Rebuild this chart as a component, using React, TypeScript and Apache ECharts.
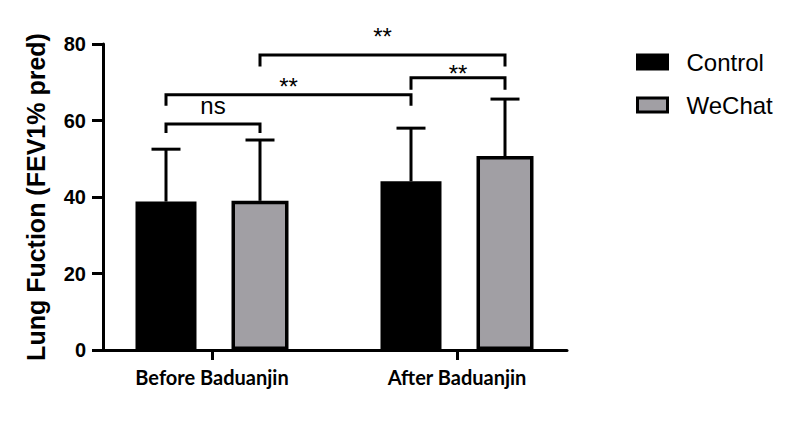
import React, { useEffect, useRef } from 'react';
import * as echarts from 'echarts';

// ---- data ----
const categories = ['Before Baduanjin', 'After Baduanjin'];
const seriesNames = ['Control', 'WeChat'];
const controlMeans = [38.8, 44.1];
const wechatMeans = [39.0, 50.7];
const controlSdTop = [52.5, 58.0];
const wechatSdTop = [54.9, 65.6];
const yTickValues = [0, 20, 40, 60, 80];
// significance brackets: [category, series] at each end, level and label
const bracketLeft = [[0, 0], [0, 0], [1, 0], [0, 1]];
const bracketRight = [[0, 1], [1, 0], [1, 1], [1, 1]];
const bracketLevels = [59.1, 66.7, 71.2, 77.1];
const bracketLabels = ['ns', '**', '**', '**'];

// ---- styles ----
const SERIES_OFFSET = [-46, 48];
const LABEL_LIFT = [18, 8, 4, 19];
const LEG = [9, 11, 12, 11.5];
const GRAY = '#a19fa4';
const FONT = 'Arial, "Liberation Sans", sans-serif';

export default function App() {
  const ref = useRef<HTMLDivElement>(null);
  useEffect(() => {
    document.body.style.margin = '0';
    const chart = echarts.init(ref.current!, null, { renderer: 'svg' });
    const errData: any[] = [];
    categories.forEach((_, i) => {
      errData.push([i, controlMeans[i], controlSdTop[i], 0]);
      errData.push([i, wechatMeans[i], wechatSdTop[i], 1]);
    });
    const bracketData = bracketLevels.map((lv, i) => [
      bracketLeft[i][0], bracketLeft[i][1], bracketRight[i][0], bracketRight[i][1], lv,
    ]);
    const option: any = {
      animation: false,
      grid: [
        { left: 103, right: 233, top: 44, bottom: 71 },
        { left: 89.5, right: 220.5, top: 44, bottom: 71 },
      ],
      legend: {
        orient: 'vertical',
        left: 631,
        top: 43,
        itemWidth: 30,
        itemHeight: 14,
        itemGap: 15,
        icon: 'rect',
        data: seriesNames.map((n) => ({
          name: n,
          itemStyle: { borderWidth: 3, borderColor: '#000' },
        })),
        textStyle: {
          fontSize: 24,
          fontFamily: FONT,
          color: '#000',
          lineHeight: 28,
          padding: [0, 0, 0, 14],
        },
      },
      xAxis: [
        {
          type: 'value', gridIndex: 0, min: 0, max: 1,
          axisLine: { show: true, lineStyle: { color: '#000', width: 3 } },
          axisTick: { show: false }, axisLabel: { show: false }, splitLine: { show: false },
        },
        {
          type: 'category', gridIndex: 1, data: categories,
          axisLine: { show: false },
          axisTick: { show: true, alignWithLabel: true, length: 10, lineStyle: { color: '#000', width: 3 } },
          axisLabel: {
            margin: 17, color: '#000', fontSize: 20, fontWeight: 'bold',
            fontFamily: 'Lato, "Open Sans", sans-serif',
          },
        },
      ],
      yAxis: [
        {
          type: 'value', gridIndex: 0, min: 0, max: 80, interval: 20,
          name: 'Lung Fuction (FEV1% pred)',
          nameLocation: 'middle',
          nameGap: 55,
          nameTextStyle: { fontSize: 25, fontWeight: 'bold', fontFamily: FONT, color: '#000' },
          axisLine: { show: true, lineStyle: { color: '#000', width: 3 } },
          axisTick: { show: true, length: 11, lineStyle: { color: '#000', width: 3 } },
          axisLabel: {
            margin: 17, color: '#000', fontSize: 20, fontWeight: 'bold', fontFamily: FONT,
            customValues: yTickValues,
          },
          splitLine: { show: false },
        },
        { type: 'value', gridIndex: 1, min: 0, max: 80, show: false },
      ],
      series: [
        {
          name: 'Control', type: 'bar', xAxisIndex: 1, yAxisIndex: 1,
          data: controlMeans, barWidth: 61, barGap: '57.4%',
          itemStyle: { color: '#000' }, z: 3,
        },
        {
          name: 'WeChat', type: 'bar', xAxisIndex: 1, yAxisIndex: 1,
          data: wechatMeans, barWidth: 57, barGap: '57.4%',
          itemStyle: { color: GRAY, borderColor: '#000', borderWidth: 3.5 }, z: 3,
        },
        {
          type: 'custom', xAxisIndex: 1, yAxisIndex: 1, z: 1,
          encode: { x: 0, y: [1, 2] },
          data: errData,
          renderItem: (params: any, api: any) => {
            const p = api.coord([api.value(0), api.value(1)]);
            const t = api.coord([api.value(0), api.value(2)]);
            const x = p[0] + SERIES_OFFSET[api.value(3)];
            const st = { stroke: '#000', lineWidth: 3 };
            return {
              type: 'group',
              children: [
                { type: 'line', shape: { x1: x, y1: p[1], x2: x, y2: t[1] }, style: st },
                { type: 'line', shape: { x1: x - 14.5, y1: t[1], x2: x + 14.5, y2: t[1] }, style: st },
              ],
            };
          },
        },
        {
          type: 'custom', xAxisIndex: 1, yAxisIndex: 1, z: 4, clip: false,
          encode: { x: 0, y: 4 },
          data: bracketData,
          renderItem: (params: any, api: any) => {
            const i = params.dataIndex;
            const l = api.coord([api.value(0), api.value(4)]);
            const r = api.coord([api.value(2), api.value(4)]);
            const xl = l[0] + SERIES_OFFSET[api.value(1)];
            const xr = r[0] + SERIES_OFFSET[api.value(3)];
            const y = l[1];
            return {
              type: 'group',
              children: [
                {
                  type: 'polyline',
                  shape: { points: [[xl, y + LEG[i]], [xl, y], [xr, y], [xr, y + LEG[i]]] },
                  style: { stroke: '#000', lineWidth: 3, fill: 'none' },
                },
                {
                  type: 'text',
                  style: {
                    text: bracketLabels[i], x: (xl + xr) / 2, y: y - LABEL_LIFT[i],
                    align: 'center', verticalAlign: 'middle',
                    fontSize: 24, fontFamily: FONT, fill: '#000',
                  },
                },
              ],
            };
          },
        },
      ],
    };
    chart.setOption(option);
    return () => chart.dispose();
  }, []);
  return <div ref={ref} style={{ width: 800, height: 421 }} />;
}
